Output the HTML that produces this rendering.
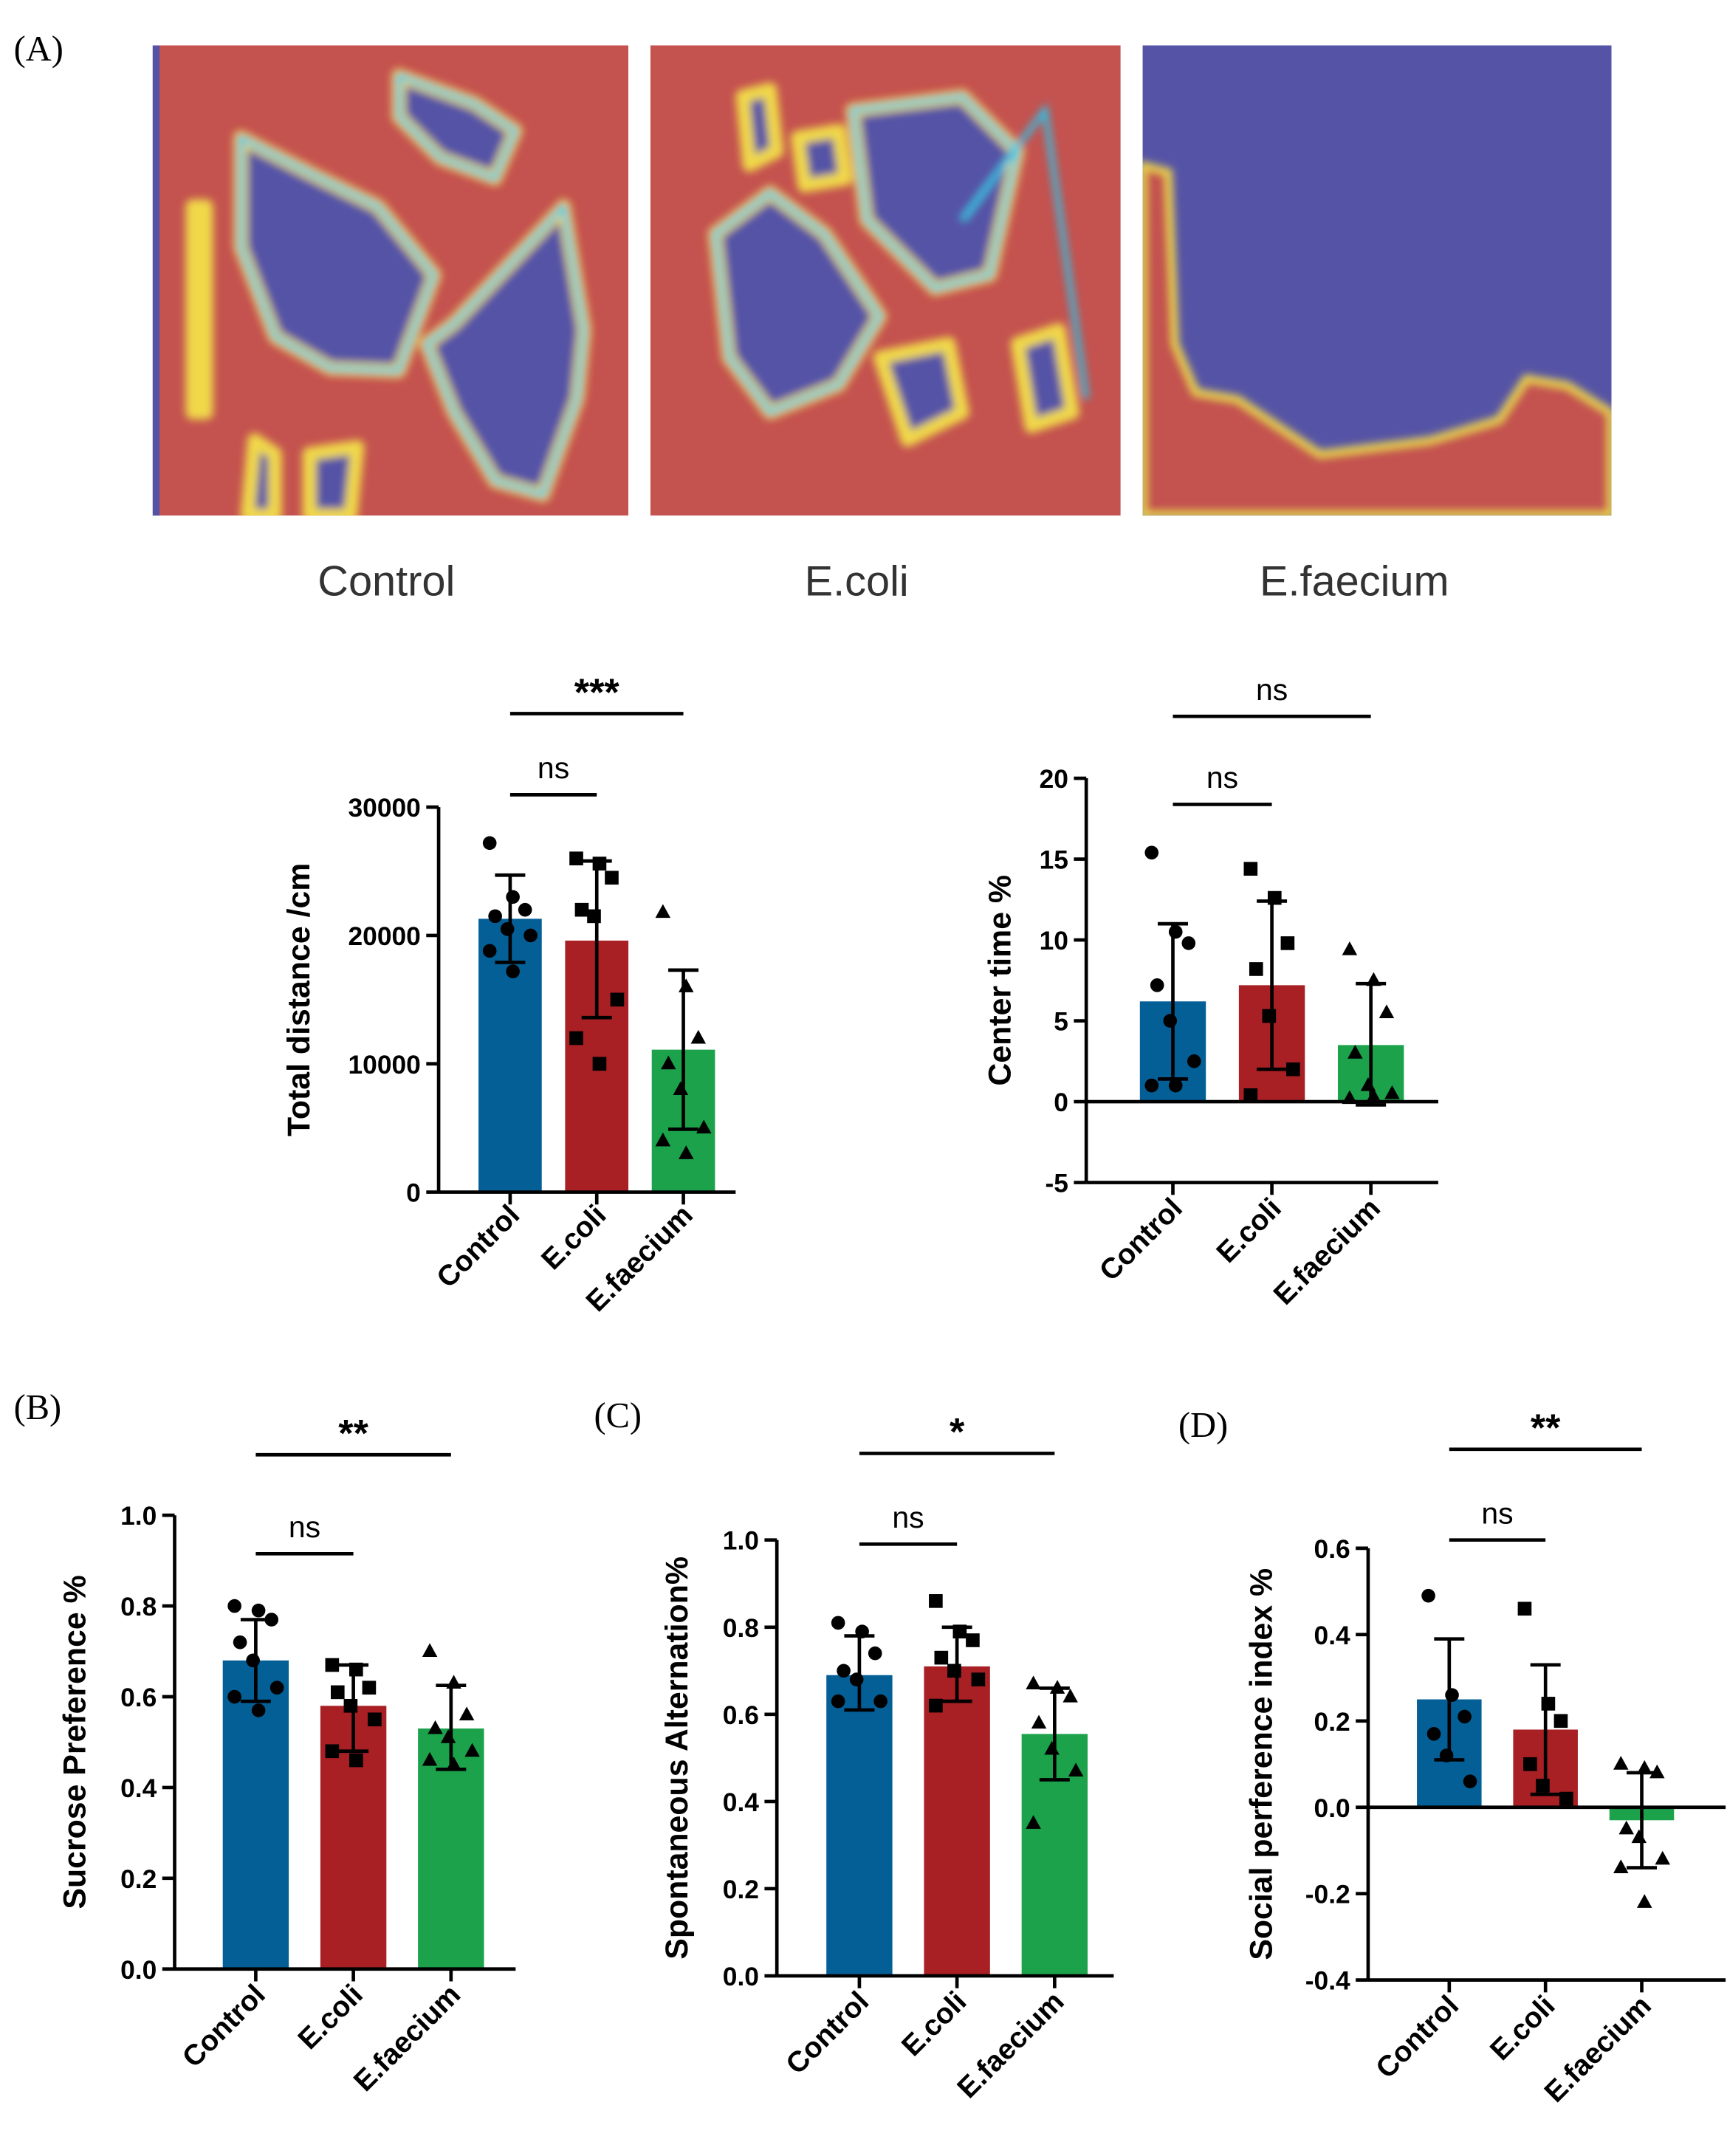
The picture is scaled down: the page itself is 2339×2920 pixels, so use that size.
<!DOCTYPE html>
<html><head><meta charset="utf-8"><style>
html,body{margin:0;padding:0;background:#fff}
svg{display:block}
text{font-family:"Liberation Sans",Arial,sans-serif}
.tk{font-size:19px;font-weight:bold}
.yl{font-size:23px;font-weight:bold}
.xl{font-size:21px;font-weight:bold}
.pl{font-family:"Liberation Serif",serif;font-size:26px}
</style></head><body>
<svg id="fig" xmlns="http://www.w3.org/2000/svg" width="2339" height="2920" viewBox="0 0 1256 1568">
<defs>
<filter id="bl" x="-10%" y="-10%" width="120%" height="120%"><feGaussianBlur stdDeviation="3"/></filter>
<clipPath id="c1"><rect x="111" y="33" width="346" height="342"/></clipPath>
<clipPath id="c2"><rect x="473" y="33" width="342" height="342"/></clipPath>
<clipPath id="c3"><rect x="831" y="33" width="341" height="342"/></clipPath>
</defs>
<text class="pl" x="10" y="44">(A)</text>
<g clip-path="url(#c1)">
<rect x="111" y="33" width="346" height="342" fill="#c4524f"/>
<g filter="url(#bl)" stroke-linejoin="round">
<g fill="#5553a6" stroke="#f0d84a" stroke-width="10">
<path d="M175,100 L230,128 L275,150 L316,200 L290,270 L240,268 L200,245 L175,180 Z"/>
<path d="M310,250 L330,235 L410,150 L425,240 L420,290 L395,360 L360,350 L330,300 Z"/>
<path d="M290,55 L345,75 L375,95 L360,130 L320,115 L290,85 Z"/>
<path d="M185,320 L200,330 L200,375 L180,375 Z"/>
<path d="M225,330 L260,325 L255,375 L225,375 Z"/>
<path d="M140,150 L150,150 L150,300 L140,300 Z"/>
</g>
<g fill="none" stroke="#2cc4e8" stroke-width="4">
<path d="M175,100 L230,128 L275,150 L316,200 L290,270 L240,268 L200,245 L175,180 Z"/>
<path d="M310,250 L330,235 L410,150 L425,240 L420,290 L395,360 L360,350 L330,300 Z"/>
<path d="M290,55 L345,75 L375,95 L360,130 L320,115 L290,85 Z"/>
</g>
</g>
<rect x="111" y="33" width="5" height="342" fill="#5553a6"/>
</g>
<g clip-path="url(#c2)">
<rect x="473" y="33" width="342" height="342" fill="#c4524f"/>
<g filter="url(#bl)">
<g fill="#5553a6" stroke="#f0d84a" stroke-width="10" stroke-linejoin="round">
<path d="M520,170 L560,140 L600,170 L640,230 L610,280 L560,300 L530,260 Z"/>
<path d="M620,80 L700,70 L740,110 L720,200 L680,210 L630,160 Z"/>
<path d="M540,70 L560,65 L565,110 L545,120 Z"/>
<path d="M640,260 L690,250 L700,300 L660,320 Z"/>
<path d="M580,100 L610,95 L615,130 L585,135 Z"/>
<path d="M740,250 L770,240 L780,300 L750,310 Z"/>
</g>
<g fill="none" stroke="#2cc4e8" stroke-width="4">
<path d="M520,170 L560,140 L600,170 L640,230 L610,280 L560,300 L530,260 Z"/>
<path d="M620,80 L700,70 L740,110 L720,200 L680,210 L630,160 Z"/>
<path d="M700,160 L760,80 L790,290"/>
</g>
</g>
</g>
<g clip-path="url(#c3)">
<rect x="831" y="33" width="341" height="342" fill="#5553a6"/>
<g filter="url(#bl)">
<path d="M831,120 L850,125 L855,250 L870,285 L900,290 L960,330 L1040,320 L1090,305 L1110,275 L1140,280 L1172,300 L1172,375 L831,375 Z" fill="#c4524f" stroke="#f0d84a" stroke-width="5"/>
</g>
</g>
<text x="281" y="433" font-size="31" text-anchor="middle" fill="#333">Control</text>
<text x="623" y="433" font-size="31" text-anchor="middle" fill="#333">E.coli</text>
<text x="985" y="433" font-size="31" text-anchor="middle" fill="#333">E.faecium</text>
<text class="pl" x="10" y="1032">(B)</text>
<text class="pl" x="432" y="1038">(C)</text>
<text class="pl" x="857" y="1045">(D)</text>
<g id="charts"></g>
</svg>
<script>
const categories = ["Control", "E.coli", "E.faecium"];
const colors = ["#045f97", "#a81f24", "#1ba24b"];
const markers = ["circle", "square", "triangle"];

const distMeans = [21300, 19600, 11100];
const distLo = [17900, 13600, 4900];
const distHi = [24700, 25800, 17300];
const distPts = [[27200,23000,22000,21500,20500,20000,18800,17200],[26000,25600,24500,22000,21500,15000,12000,10000],[21800,16000,12000,10000,8000,5000,4000,3000]];
const distTicks = [0,10000,20000,30000];

const centerMeans = [6.2, 7.2, 3.5];
const centerLo = [1.4, 2.0, -0.2];
const centerHi = [11.0, 12.4, 7.3];
const centerPts = [[15.4,10.5,9.8,7.2,5.0,2.5,1.0,1.0],[14.4,12.6,9.8,8.2,5.3,2.0,0.4],[9.4,7.5,5.5,3.0,1.0,0.5,0.2,0.3]];
const centerTicks = [-5,0,5,10,15,20];

const sucMeans = [0.68, 0.58, 0.53];
const sucLo = [0.59, 0.48, 0.44];
const sucHi = [0.77, 0.67, 0.625];
const sucPts = [[0.80,0.79,0.77,0.72,0.68,0.62,0.60,0.57],[0.67,0.66,0.62,0.61,0.58,0.55,0.48,0.46],[0.70,0.63,0.56,0.53,0.51,0.48,0.46,0.45]];
const sucTicks = [0,0.2,0.4,0.6,0.8,1.0];

const altMeans = [0.69, 0.71, 0.555];
const altLo = [0.61, 0.63, 0.45];
const altHi = [0.78, 0.80, 0.66];
const altPts = [[0.81,0.79,0.74,0.70,0.68,0.63,0.63],[0.86,0.79,0.77,0.73,0.70,0.68,0.62],[0.67,0.66,0.64,0.58,0.52,0.47,0.35]];
const altTicks = [0,0.2,0.4,0.6,0.8,1.0];

const socMeans = [0.25, 0.18, -0.03];
const socLo = [0.11, 0.03, -0.14];
const socHi = [0.39, 0.33, 0.08];
const socPts = [[0.49,0.26,0.21,0.17,0.12,0.06],[0.46,0.24,0.20,0.10,0.05,0.02],[0.10,0.09,0.08,-0.05,-0.07,-0.12,-0.14,-0.22]];
const socTicks = [-0.4,-0.2,0,0.2,0.4,0.6];

const NS="http://www.w3.org/2000/svg";
const root=document.getElementById('charts');
function mk(tag,attrs,parent,txt){const e=document.createElementNS(NS,tag);for(const k in attrs)e.setAttribute(k,attrs[k]);if(txt!==undefined)e.textContent=txt;(parent||root).appendChild(e);return e;}

function chart(o){
  const g=mk('g',{});
  
  
  const ymin=o.ticks[0], ymax=o.ticks[o.ticks.length-1];
  const y=v=>o.yBot-(v-ymin)/(ymax-ymin)*(o.yBot-o.yTop);
  const x=i=>o.x0+i*o.step;
  o.means.forEach((m,i)=>{
    const b=mk('rect',{x:x(i)-o.bw/2,y:Math.min(y(m),y(0)),width:o.bw,height:Math.abs(y(m)-y(0)),fill:colors[i]},g);
    
    
  });
  o.pts.forEach((arr,i)=>{
    arr.forEach((v,j)=>{
      const px=x(i)+((j%3)-1)*o.bw*0.28+(j%2?4:-4)*0.5;
      const py=y(v);
      let p;
      if(markers[i]==='circle') p=mk('circle',{cx:px,cy:py,r:5,fill:'#000'},g);
      else if(markers[i]==='square') p=mk('rect',{x:px-5,y:py-5,width:10,height:10,fill:'#000'},g);
      else p=mk('polygon',{points:`${px},${py-6} ${px-5.5},${py+4} ${px+5.5},${py+4}`,fill:'#000'},g);
      
      
    });
  });
  o.means.forEach((m,i)=>{
    const e=mk('path',{d:`M${x(i)},${y(o.lo[i])}V${y(o.hi[i])}M${x(i)-11},${y(o.hi[i])}H${x(i)+11}M${x(i)-11},${y(o.lo[i])}H${x(i)+11}`,stroke:'#000','stroke-width':2.5,fill:'none'},g);
    
    
  });
  const ya=mk('path',{d:`M${o.ax},${o.yTop}V${o.yBot}`,stroke:'#000','stroke-width':2.5},g);
  
  
  o.ticks.forEach(t=>{
    mk('path',{d:`M${o.ax-9},${y(t)}H${o.ax}`,stroke:'#000','stroke-width':2.5},g);
    const tl=mk('text',{x:o.ax-13,y:y(t)+7,'text-anchor':'end',class:'tk'},g,o.fmt(t));
    
    
  });
  const xa=mk('path',{d:`M${o.ax},${y(0)}H${o.xEnd}`,stroke:'#000','stroke-width':2.5},g);
  
  
  if(ymin<0){mk('path',{d:`M${o.ax},${o.yBot}H${o.xEnd}`,stroke:'#000','stroke-width':2.5},g);}
  const lab=o.labY;
  categories.forEach((c,i)=>{
    mk('path',{d:`M${x(i)},${o.tickBase}v9`,stroke:'#000','stroke-width':2.5},g);
    const t=mk('text',{x:x(i)+8,y:lab,'text-anchor':'end',class:'xl',transform:`rotate(-45 ${x(i)+8} ${lab})`},g,c);
    
    
  });
  const yt=mk('text',{x:o.ylx,y:(o.yTop+o.yBot)/2,'text-anchor':'middle',class:'yl',transform:`rotate(-90 ${o.ylx} ${(o.yTop+o.yBot)/2})`},g,o.ylabel);
  
  
  o.sig.forEach(s=>{
    mk('path',{d:`M${x(0)},${s.y}H${x(s.to)}`,stroke:'#000','stroke-width':2.5},g);
    const st=mk('text',{x:(x(0)+x(s.to))/2,y:s.y-(s.t==='ns'?12:6),'text-anchor':'middle','font-size':s.t==='ns'?22:28,'font-weight':s.t==='ns'?'normal':'bold'},g,s.t);
    
    
  });
}
const f0=t=>String(t);
const f1=t=>t.toFixed(1);
chart({name:'chart-total-distance',means:distMeans,lo:distLo,hi:distHi,pts:distPts,ticks:distTicks,fmt:f0,ax:319,yTop:587,yBot:867,x0:371,step:63,bw:46,xEnd:535,tickBase:867,labY:885,ylx:225,ylabel:'Total distance /cm',sig:[{to:1,y:578,t:'ns'},{to:2,y:519,t:'***'}]});
chart({name:'chart-center-time',means:centerMeans,lo:centerLo,hi:centerHi,pts:centerPts,ticks:centerTicks,fmt:f0,ax:790,yTop:566,yBot:860,x0:853,step:72,bw:48,xEnd:1046,tickBase:860,labY:880,ylx:735,ylabel:'Center time %',sig:[{to:1,y:585,t:'ns'},{to:2,y:521,t:'ns'}]});
chart({name:'chart-sucrose-preference',means:sucMeans,lo:sucLo,hi:sucHi,pts:sucPts,ticks:sucTicks,fmt:f1,ax:127,yTop:1102,yBot:1432,x0:186,step:71,bw:48,xEnd:375,tickBase:1432,labY:1452,ylx:62,ylabel:'Sucrose Preference %',sig:[{to:1,y:1130,t:'ns'},{to:2,y:1058,t:'**'}]});
chart({name:'chart-spontaneous-alternation',means:altMeans,lo:altLo,hi:altHi,pts:altPts,ticks:altTicks,fmt:f1,ax:565,yTop:1120,yBot:1437,x0:625,step:71,bw:48,xEnd:810,tickBase:1437,labY:1457,ylx:500,ylabel:'Spontaneous Alternation%',sig:[{to:1,y:1123,t:'ns'},{to:2,y:1057,t:'*'}]});
chart({name:'chart-social-preference',means:socMeans,lo:socLo,hi:socHi,pts:socPts,ticks:socTicks,fmt:f1,ax:995,yTop:1126,yBot:1440,x0:1054,step:70,bw:47,xEnd:1255,tickBase:1440,labY:1460,ylx:925,ylabel:'Social perference index %',sig:[{to:1,y:1120,t:'ns'},{to:2,y:1054,t:'**'}]});
</script>
</body></html>
